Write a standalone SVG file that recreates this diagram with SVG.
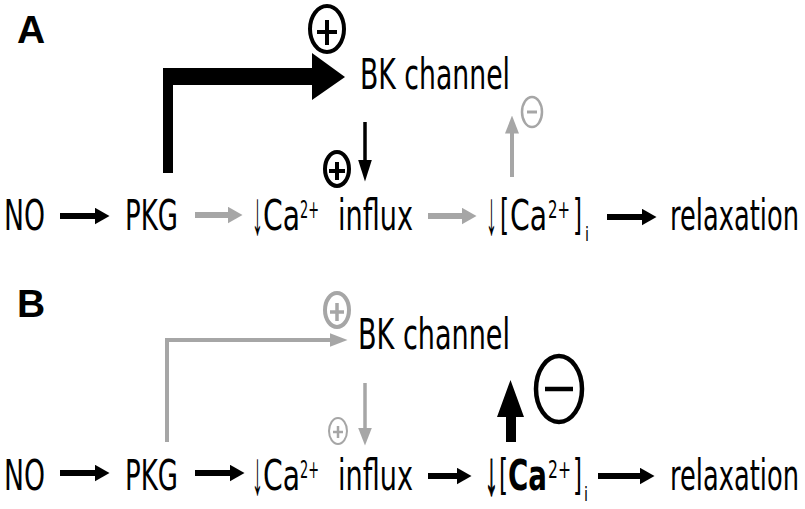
<svg xmlns="http://www.w3.org/2000/svg" width="805" height="509" viewBox="0 0 805 509">
<style>
text{font-family:"DejaVu Sans","Liberation Sans",sans-serif;fill:#000}
.m{font-size:42px}
.sup{font-size:24px}
.sub{font-size:19px}
.arr{font-family:"Liberation Sans",Arial,sans-serif;font-size:62px;font-weight:bold}
.lab{font-family:"Liberation Sans",Arial,sans-serif;font-weight:bold;font-size:39px}
.b{font-weight:bold}
.bs{stroke:#000;stroke-width:1.5}
.blk{stroke:#000;fill:none}
.gry{stroke:#a6a6a6;fill:none}
.sym{fill:#fff}
</style>
<defs>
<marker id="hb" markerUnits="userSpaceOnUse" markerWidth="15" markerHeight="17" refX="0.5" refY="8.5" orient="auto"><path d="M0,0L15,8.5L0,17Z" fill="#000"/></marker>
<marker id="hg" markerUnits="userSpaceOnUse" markerWidth="15" markerHeight="17" refX="0.5" refY="8.5" orient="auto"><path d="M0,0L15,8.5L0,17Z" fill="#a6a6a6"/></marker>
<marker id="hsb" markerUnits="userSpaceOnUse" markerWidth="22" markerHeight="14" refX="0.5" refY="7" orient="auto"><path d="M0,0L22,7L0,14Z" fill="#000"/></marker>
<marker id="hsg" markerUnits="userSpaceOnUse" markerWidth="18" markerHeight="14" refX="0.5" refY="7" orient="auto"><path d="M0,0L18,7L0,14Z" fill="#a6a6a6"/></marker>
</defs>

<g id="panelA">
<text class="lab" x="17" y="43">A</text>
<g id="A-NO"><text class="m" x="4" y="230" textLength="41" lengthAdjust="spacingAndGlyphs">NO</text></g>
<g id="A-PKG"><text class="m" x="125" y="230" textLength="53" lengthAdjust="spacingAndGlyphs">PKG</text></g>
<g id="A-influx">
<text class="arr" x="252" y="234" textLength="11" lengthAdjust="spacingAndGlyphs">↓</text>
<text class="m" x="263" y="230" textLength="37" lengthAdjust="spacingAndGlyphs">Ca</text>
<text class="sup" x="300" y="218" textLength="19" lengthAdjust="spacingAndGlyphs">2+</text>
<text class="m" x="338" y="230" textLength="75" lengthAdjust="spacingAndGlyphs">influx</text>
</g>
<g id="A-Cai">
<text class="arr" x="486" y="234" textLength="11" lengthAdjust="spacingAndGlyphs">↓</text>
<text class="m" x="500" y="230" textLength="9" lengthAdjust="spacingAndGlyphs">[</text>
<text class="m" x="510" y="230" textLength="37" lengthAdjust="spacingAndGlyphs">Ca</text>
<text class="sup" x="548" y="218" textLength="22" lengthAdjust="spacingAndGlyphs">2+</text>
<text class="m" x="573" y="230" textLength="9" lengthAdjust="spacingAndGlyphs">]</text>
<text class="sub" x="585" y="241" textLength="4" lengthAdjust="spacingAndGlyphs">i</text>
</g>
<g id="A-relax"><text class="m" x="670" y="230" textLength="129" lengthAdjust="spacingAndGlyphs">relaxation</text></g>
<g id="A-BK"><text class="m" x="360" y="89" textLength="150" lengthAdjust="spacingAndGlyphs">BK channel</text></g>
<g id="A-plus1"><ellipse class="blk sym" cx="327" cy="29" rx="17" ry="23" stroke-width="4"/><path class="blk" d="M317,32H337M327,20V45" stroke-width="4"/></g>
<g id="A-plus2"><ellipse class="blk sym" cx="337" cy="169" rx="12" ry="17" stroke-width="4"/><path class="blk" d="M329,171H345M337,162V180" stroke-width="4"/></g>
<g id="A-minus"><ellipse class="gry sym" cx="532" cy="112" rx="10" ry="15" stroke-width="2.5"/><path class="gry" d="M527,112H537" stroke-width="3"/></g>
</g>

<g id="panelB">
<text class="lab" x="17" y="317">B</text>
<g id="B-NO"><text class="m" x="4" y="490" textLength="41" lengthAdjust="spacingAndGlyphs">NO</text></g>
<g id="B-PKG"><text class="m" x="125" y="490" textLength="53" lengthAdjust="spacingAndGlyphs">PKG</text></g>
<g id="B-influx">
<text class="arr" x="252" y="494" textLength="11" lengthAdjust="spacingAndGlyphs">↓</text>
<text class="m" x="263" y="490" textLength="37" lengthAdjust="spacingAndGlyphs">Ca</text>
<text class="sup" x="300" y="478" textLength="19" lengthAdjust="spacingAndGlyphs">2+</text>
<text class="m" x="338" y="490" textLength="75" lengthAdjust="spacingAndGlyphs">influx</text>
</g>
<g id="B-Cai">
<text class="arr bs" x="485" y="494" textLength="13" lengthAdjust="spacingAndGlyphs">↓</text>
<text class="m" x="499" y="490" textLength="9" lengthAdjust="spacingAndGlyphs">[</text>
<text class="m b" x="508" y="490" textLength="39" lengthAdjust="spacingAndGlyphs">Ca</text>
<text class="sup" x="548" y="478" textLength="23" lengthAdjust="spacingAndGlyphs">2+</text>
<text class="m" x="573" y="490" textLength="9" lengthAdjust="spacingAndGlyphs">]</text>
<text class="sub" x="584" y="501" textLength="4" lengthAdjust="spacingAndGlyphs">i</text>
</g>
<g id="B-relax"><text class="m" x="670" y="490" textLength="129" lengthAdjust="spacingAndGlyphs">relaxation</text></g>
<g id="B-BK"><text class="m" x="358" y="349" textLength="152" lengthAdjust="spacingAndGlyphs">BK channel</text></g>
<g id="B-plus1"><ellipse class="gry sym" cx="337" cy="310" rx="12" ry="17" stroke-width="4"/><path class="gry" d="M330,312H344M337,303V321" stroke-width="3.5"/></g>
<g id="B-plus2"><ellipse class="gry sym" cx="338" cy="431" rx="9" ry="13" stroke-width="2"/><path class="gry" d="M333,432H343M338,426V438" stroke-width="2.5"/></g>
<g id="B-minus"><ellipse class="blk sym" cx="559" cy="389" rx="23" ry="33" stroke-width="4.5"/><path class="blk" d="M545,389H573" stroke-width="4.5"/></g>
</g>

<g id="connectors">
<path d="M60,216H95" class="blk" stroke-width="6" marker-end="url(#hb)"/>
<path d="M195,215H228" class="gry" stroke-width="6" marker-end="url(#hg)"/>
<path d="M428,216H462" class="gry" stroke-width="6" marker-end="url(#hg)"/>
<path d="M607,217H642" class="blk" stroke-width="6" marker-end="url(#hb)"/>
<path d="M163,173V68H312V53L345,77L312,100V85H173V173Z" fill="#000"/>
<path d="M365,122V160" class="blk" stroke-width="3.5" marker-end="url(#hsb)"/>
<path d="M512,177V133" class="gry" stroke-width="4" marker-end="url(#hsg)"/>

<path d="M60,473H95" class="blk" stroke-width="6" marker-end="url(#hb)"/>
<path d="M195,473H230" class="blk" stroke-width="6" marker-end="url(#hb)"/>
<path d="M428,476H457" class="blk" stroke-width="6" marker-end="url(#hb)"/>
<path d="M598,476H640" class="blk" stroke-width="6" marker-end="url(#hb)"/>
<path d="M167,442V340H330" class="gry" stroke-width="4" marker-end="url(#hsg)"/>
<path d="M365,383V428" class="gry" stroke-width="3.5" marker-end="url(#hsg)"/>
<path d="M506,442V417H497L510.5,380L524,417H516V442Z" fill="#000"/>
</g>
</svg>
